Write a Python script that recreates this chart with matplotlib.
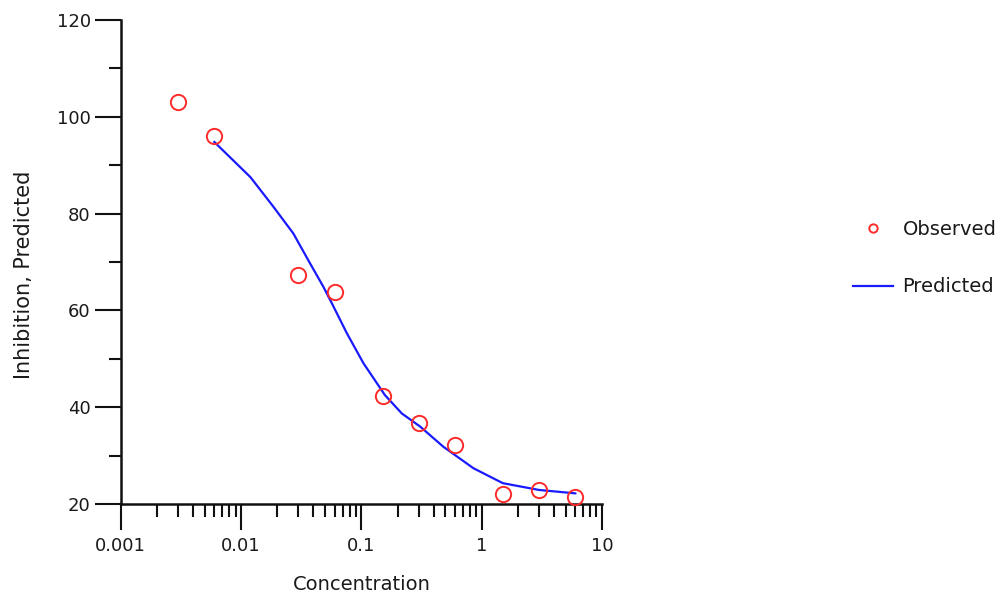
import matplotlib
matplotlib.use("Agg")
import matplotlib.pyplot as plt
from matplotlib.lines import Line2D
from matplotlib.ticker import LogLocator, FixedLocator, MultipleLocator, NullFormatter

# Observed data
conc_obs = [0.003, 0.006, 0.03, 0.06, 0.15, 0.3, 0.6, 1.5, 3.0, 6.0]
inhib_obs = [103.1, 96.1, 67.3, 63.7, 42.3, 36.7, 32.2, 22.0, 22.9, 21.5]

# Predicted curve
conc_pred = [0.006, 0.012, 0.0186, 0.0272, 0.0375, 0.0483, 0.0568, 0.0757, 0.104,
             0.157, 0.217, 0.308, 0.482, 0.853, 1.5, 3.0, 6.0]
inhib_pred = [94.8, 87.5, 81.4, 75.9, 69.7, 64.9, 61.5, 55.3, 49.1,
              42.5, 38.7, 36.0, 31.8, 27.4, 24.3, 22.9, 22.2]

x_ticks = [0.001, 0.01, 0.1, 1, 10]
x_ticklabels = ["0.001", "0.01", "0.1", "1", "10"]
y_ticks = [20, 40, 60, 80, 100, 120]

plt.rcParams['font.family'] = ['DejaVu Sans']
TXT = "#1a1a1a"

fig = plt.figure(figsize=(10.03, 6.01), dpi=100)
ax = fig.add_axes([120.7 / 1003, 1 - 504 / 601, (602 - 120.7) / 1003, (504 - 20) / 601])

ax.plot(conc_pred, inhib_pred, color="#1a1aff", lw=1.6, zorder=2)
ax.plot(conc_obs, inhib_obs, linestyle="none", marker="o", markersize=11,
        markerfacecolor="none", markeredgecolor="#ff2a2a", markeredgewidth=1.4, zorder=3,
        clip_on=False)

ax.set_xscale("log")
ax.set_xlim(0.001, 10)
ax.set_ylim(20, 120)

ax.xaxis.set_major_locator(FixedLocator(x_ticks))
ax.set_xticklabels(x_ticklabels)
ax.xaxis.set_minor_locator(LogLocator(base=10, subs=range(2, 10), numticks=20))
ax.xaxis.set_minor_formatter(NullFormatter())
ax.yaxis.set_major_locator(FixedLocator(y_ticks))
ax.yaxis.set_minor_locator(MultipleLocator(10))

for s in ["top", "right"]:
    ax.spines[s].set_visible(False)
for s in ["left", "bottom"]:
    ax.spines[s].set_linewidth(1.8)
    ax.spines[s].set_color("#111111")

ax.tick_params(axis="both", which="major", direction="out", width=1.5, color="#111111",
               labelsize=13, labelcolor=TXT)
ax.tick_params(axis="y", which="major", length=18.5, pad=3)
ax.tick_params(axis="y", which="minor", length=8.5, width=1.5, color="#111111")
ax.tick_params(axis="x", which="major", length=19, pad=5)
ax.tick_params(axis="x", which="minor", length=9, width=1.5, color="#111111")

ax.set_xlabel("Concentration", fontsize=14, color=TXT, labelpad=14)
ax.set_ylabel("Inhibition, Predicted", fontsize=15, color=TXT)
ax.yaxis.set_label_coords(-0.18, 0.474)

handles = [
    Line2D([], [], linestyle="none", marker="o", markersize=6, markerfacecolor="none",
           markeredgecolor="#ff2a2a", markeredgewidth=1.4),
    Line2D([], [], color="#1a1aff", lw=1.6),
]
fig.legend(handles, ["Observed", "Predicted"], loc="center left",
           bbox_to_anchor=(853 / 1003, 1 - 258 / 601), frameon=False, fontsize=14,
           handlelength=2.05, handletextpad=0.5, labelspacing=2.0, borderpad=0,
           borderaxespad=0, labelcolor=TXT)

fig.savefig("out.png", dpi=100)
